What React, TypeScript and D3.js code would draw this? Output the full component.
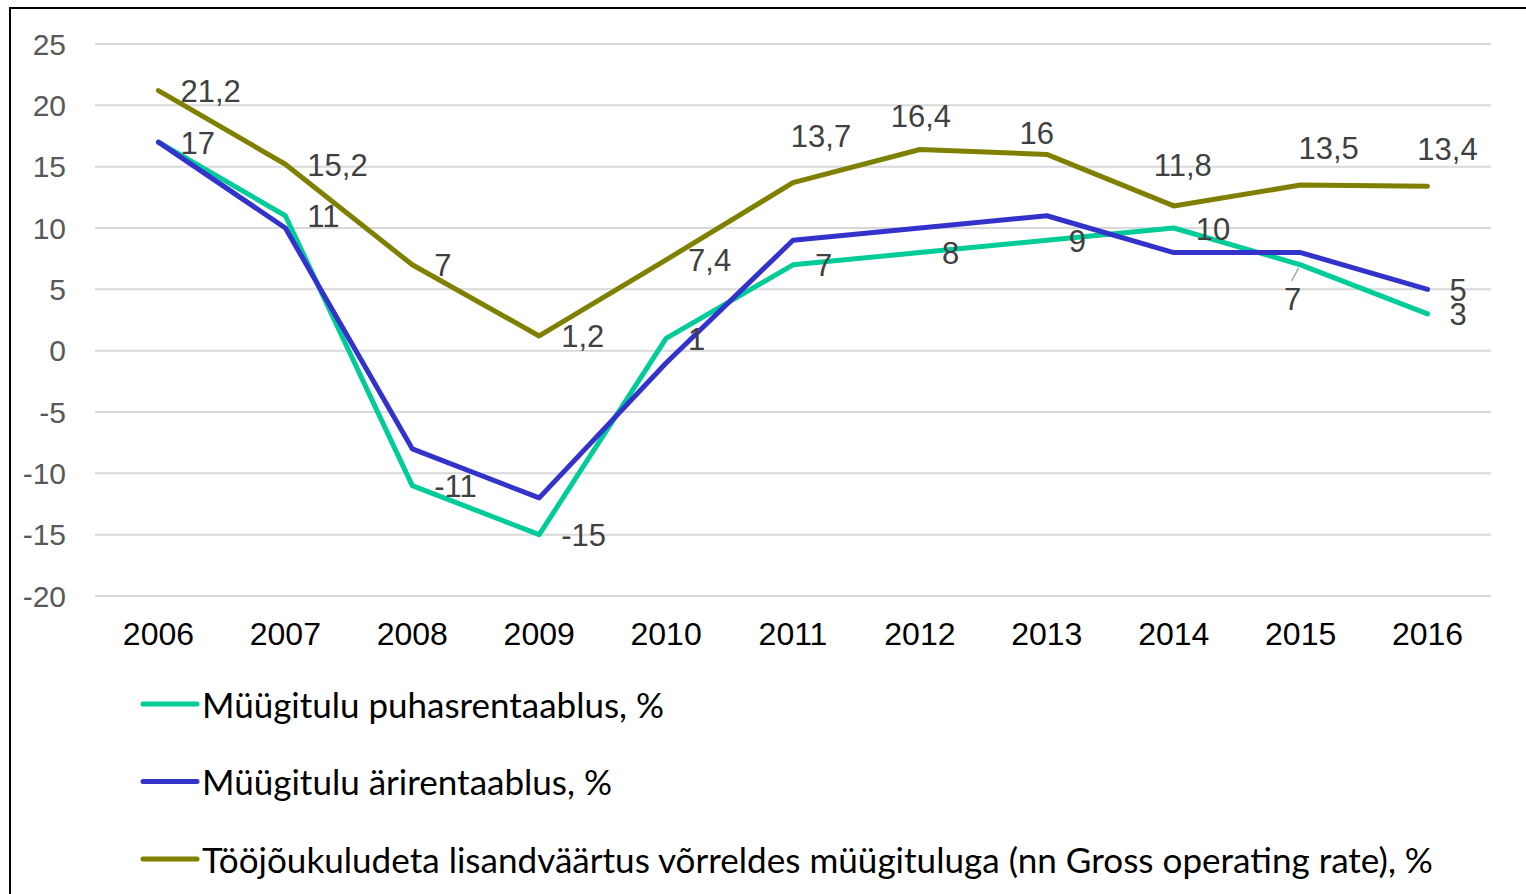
import * as d3 from "d3";

const years = ["2006", "2007", "2008", "2009", "2010", "2011", "2012", "2013", "2014", "2015", "2016"];
const netMargin = [17, 11, -11, -15, 1, 7, 8, 9, 10, 7, 3];
const opMargin = [17, 10, -8, -12, -1, 9, 10, 11, 8, 8, 5];
const grossRate = [21.2, 15.2, 7, 1.2, 7.4, 13.7, 16.4, 16, 11.8, 13.5, 13.4];
const yTicks = [25, 20, 15, 10, 5, 0, -5, -10, -15, -20];

// where each value label sits: r = right, t = above, b = below-left, "" = none
const netPlace = ["r", "r", "r", "r", "r", "r", "r", "r", "r", "b", "r"];
const opPlace = ["", "", "", "", "", "", "", "", "", "", "r"];
const grossPlace = ["r", "r", "r", "r", "r", "t", "t", "t", "t", "t", "t"];

const series = [
  { name: "Müügitulu puhasrentaablus, %", color: "#00CC99", values: netMargin, place: netPlace, legendW: 462 },
  { name: "Müügitulu ärirentaablus, %", color: "#3333CC", values: opMargin, place: opPlace, legendW: 410 },
  {
    name: "Tööjõukuludeta lisandväärtus võrreldes müügituluga (nn Gross operating rate), %",
    color: "#808000",
    values: grossRate,
    place: grossPlace,
    legendW: 1231,
  },
];

const W = 1526;
const H = 894;
const plot = { left: 95, right: 1491, top: 44, bottom: 596 };

// hand nudges for the labels placed above the line (Excel shifts them around)
const topNudge: Record<number, [number, number]> = {
  5: [28, -46],
  6: [1, -33],
  7: [-10, -21],
  8: [9, -40],
  9: [28, -37],
  10: [20, -37],
};

const fmt = (v: number) => String(v).replace(".", ",");

export default function App() {
  const x = d3.scaleBand().domain(years).range([plot.left, plot.right]);
  const y = d3.scaleLinear().domain([-20, 25]).range([plot.bottom, plot.top]);
  const cx = (i: number) => (x(years[i]) as number) + x.bandwidth() / 2;

  const line = d3
    .line<number>()
    .x((_, i) => cx(i))
    .y((d) => y(d));

  const labelFont = "Liberation Sans, Arial, sans-serif";

  return (
    <svg width={W} height={H} style={{ position: "absolute", left: 0, top: 0, background: "#fff" }}>
      <rect x={10} y={8} width={W + 20} height={H + 20} fill="#fff" stroke="#000" strokeWidth={2} />

      {yTicks.map((t) => (
        <g key={t}>
          <line x1={plot.left} x2={plot.right} y1={y(t)} y2={y(t)} stroke="#d9d9d9" strokeWidth={2} />
          <text
            x={66}
            y={y(t)}
            textAnchor="end"
            dominantBaseline="central"
            fontFamily={labelFont}
            fontSize={30}
            fill="#595959"
          >
            {t}
          </text>
        </g>
      ))}

      {years.map((yr, i) => (
        <text
          key={yr}
          x={cx(i)}
          y={634}
          textAnchor="middle"
          dominantBaseline="central"
          fontFamily={labelFont}
          fontSize={32}
          fill="#000"
        >
          {yr}
        </text>
      ))}

      {series.map((s) => (
        <path
          key={s.name}
          d={line(s.values) as string}
          fill="none"
          stroke={s.color}
          strokeWidth={5}
          strokeLinejoin="round"
          strokeLinecap="round"
        />
      ))}

      {series.map((s) =>
        s.values.map((v, i) => {
          const p = s.place[i];
          if (!p) return null;
          const px = cx(i);
          const py = y(v);
          if (p === "r") {
            return (
              <text
                key={s.name + i}
                x={px + 22}
                y={py + 1}
                dominantBaseline="central"
                fontFamily={labelFont}
                fontSize={31}
                fill="#404040"
              >
                {fmt(v)}
              </text>
            );
          }
          if (p === "t") {
            const [dx, dy] = topNudge[i] || [0, -38];
            return (
              <text
                key={s.name + i}
                x={px + dx}
                y={py + dy}
                textAnchor="middle"
                dominantBaseline="central"
                fontFamily={labelFont}
                fontSize={31}
                fill="#404040"
              >
                {fmt(v)}
              </text>
            );
          }
          return (
            <g key={s.name + i}>
              <line x1={px - 2} y1={py + 3} x2={px - 9} y2={py + 16} stroke="#a6a6a6" strokeWidth={1.5} />
              <text
                x={px - 8}
                y={py + 35}
                textAnchor="middle"
                dominantBaseline="central"
                fontFamily={labelFont}
                fontSize={31}
                fill="#404040"
              >
                {fmt(v)}
              </text>
            </g>
          );
        })
      )}

      {series.map((s, i) => {
        const ly = 704 + i * 77.5;
        return (
          <g key={"lg" + s.name}>
            <line x1={143} x2={197} y1={ly} y2={ly} stroke={s.color} strokeWidth={5} strokeLinecap="round" />
            <text
              x={202}
              y={ly}
              dominantBaseline="central"
              fontFamily="Lato, sans-serif"
              fontSize={34}
              textLength={s.legendW}
              lengthAdjust="spacingAndGlyphs"
              fill="#000"
            >
              {s.name}
            </text>
          </g>
        );
      })}
    </svg>
  );
}
